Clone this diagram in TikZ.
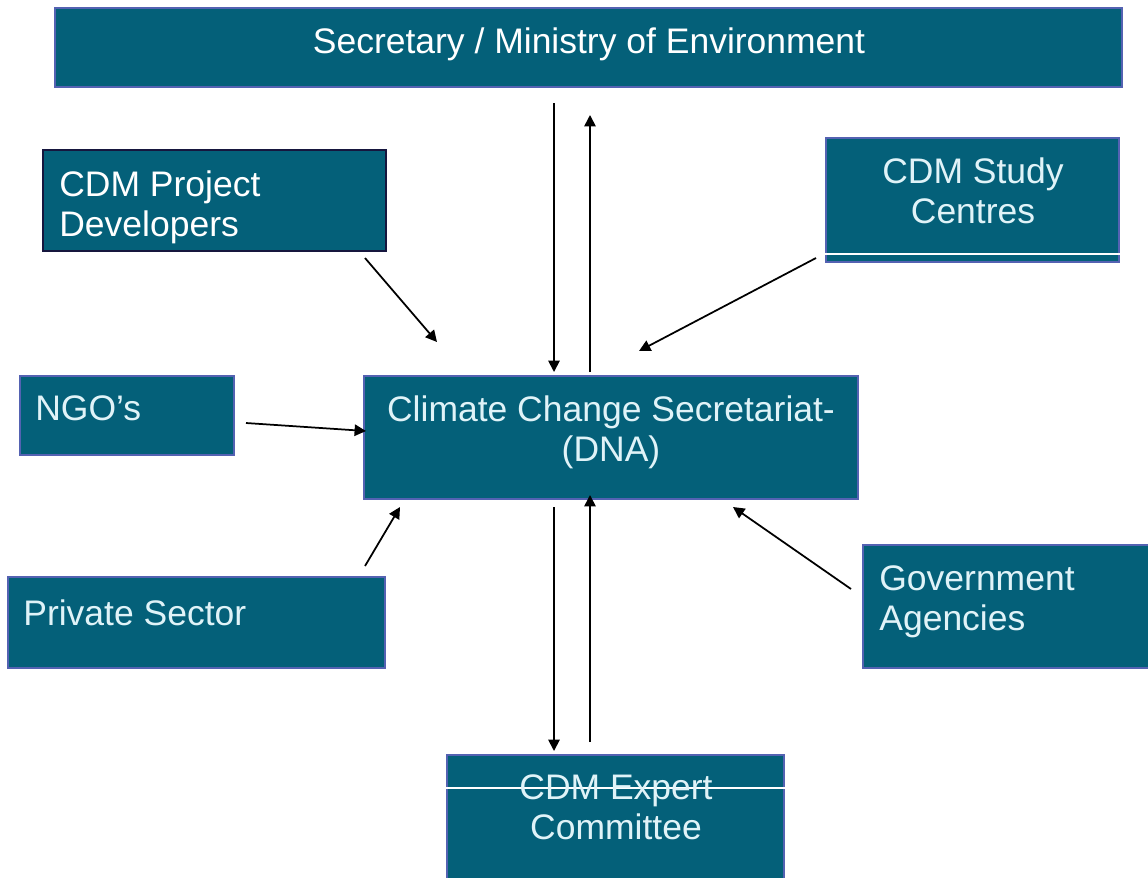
\documentclass[tikz,border=0pt]{standalone}
\usepackage{fontspec}
\setmainfont{Liberation Sans}
\usetikzlibrary{arrows.meta}
\usetikzlibrary{fit}
\definecolor{boxteal}{RGB}{4,96,121}
\definecolor{boxedge}{RGB}{84,98,178}
\definecolor{boxtext}{RGB}{224,243,248}
\definecolor{darkedge}{RGB}{22,22,62}

\begin{document}
\begin{tikzpicture}[x=0.02cm, y=-0.02cm,
    box/.style = {draw = boxedge, fill = boxteal, line width = 0.8pt, inner sep = 0pt},
    lbl/.style = {text = boxtext, font = \fontsize{20.2}{23}\selectfont, inner sep = 0pt},
    link/.style = {-{Triangle[length = 6.5pt, width = 6.5pt]}, line width = 1pt},]

    \useasboundingbox (0,0) rectangle (1148,877);

    % boxes
    \node (sec)  [box, fit = {(55,8) (1122,87)}] {};
    \node (dev)  [box, draw = darkedge, fit = {(43,150) (386,251)}] {};
    \node (stu)  [box, fit = {(826,138) (1119,262)}] {};
    \node (ngo)  [box, fit = {(20,376) (234,455)}] {};
    \node (dna)  [box, fit = {(364,376) (858,499)}] {};
    \node (pri)  [box, fit = {(8,577) (385,668)}] {};
    \node (gov)  [box, fit = {(863,545) (1152,668)}] {};
    \node (exp)  [box, fit = {(447,755) (784,881)}] {};

    \draw[white, line width = 0.6pt] (stu.west |- 0,254) -- (stu.east |- 0,254);
    \draw[white, line width = 0.6pt] (exp.west |- 0,788) -- (exp.east |- 0,788);

    % texts
    \node (sectxt) [lbl, anchor = north, text = white] at (589,27) {Secretary / Ministry of Environment};
    \node (devtxt) [lbl, anchor = north west, align = left, text = white] at (59,170) {CDM Project\\Developers};
    \node (stutxt) [lbl, anchor = north, align = center] at (973,157) {CDM Study\\Centres};
    \node (ngotxt) [lbl, anchor = north west] at (35,395) {NGO’s};
    \node (dnatxt) [lbl, anchor = north, align = center] at (611,395) {Climate Change Secretariat-\\(DNA)};
    \node (pritxt) [lbl, anchor = north west] at (23,599) {Private Sector};
    \node (govtxt) [lbl, anchor = north west, align = left] at (879,565) {Government\\Agencies};
    \node (exptxt) [lbl, anchor = north, align = center] at (616,774) {CDM Expert\\Committee};

    % arrow ends
    \coordinate (s1) at (554,103);  \coordinate (d1) at (554,372);
    \coordinate (d2) at (590,372);  \coordinate (s2) at (590,115);
    \coordinate (v1) at (365,258);  \coordinate (v2) at (437,342);
    \coordinate (c1) at (816,258);  \coordinate (c2) at (639,351);
    \coordinate (n1) at (246,423);  \coordinate (n2) at (366,431);
    \coordinate (p1) at (365,566);  \coordinate (p2) at (400,507);
    \coordinate (g1) at (851,589);  \coordinate (g2) at (733,507);
    \coordinate (d3) at (554,507);  \coordinate (e1) at (554,751);
    \coordinate (e2) at (590,742);  \coordinate (d4) at (590,495);

    \draw[link] (s1) -- (d1);
    \draw[link] (d2) -- (s2);
    \draw[link] (v1) -- (v2);
    \draw[link] (c1) -- (c2);
    \draw[link] (n1) -- (n2);
    \draw[link] (p1) -- (p2);
    \draw[link] (g1) -- (g2);
    \draw[link] (d3) -- (e1);
    \draw[link] (e2) -- (d4);

\end{tikzpicture}
\end{document}
